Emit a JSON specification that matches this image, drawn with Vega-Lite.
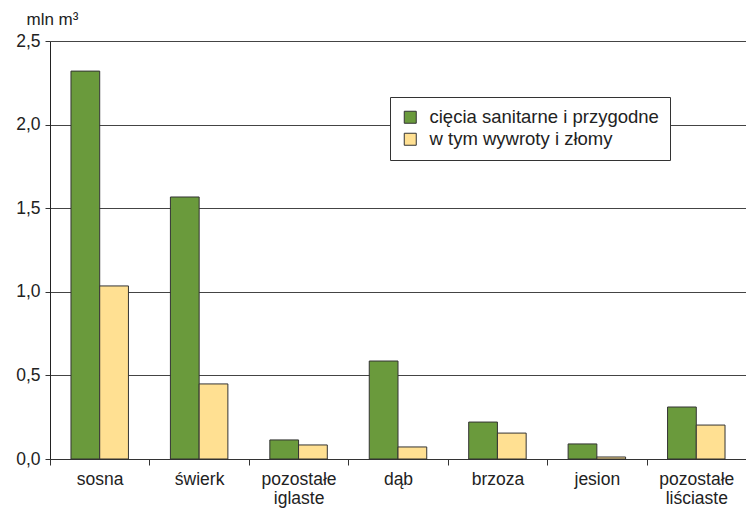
{
  "$schema": "https://vega.github.io/schema/vega-lite/v6.json",
  "width": 696,
  "height": 418,
  "padding": {"left": 50, "top": 41, "right": 0, "bottom": 49},
  "autosize": {"type": "none"},
  "background": "white",
  "config": {
    "view": {"stroke": null},
    "font": "Liberation Sans"
  },
  "data": {
    "values": [
      {"gatunek": "sosna", "seria": "cięcia sanitarne i przygodne", "v": 2.32},
      {"gatunek": "sosna", "seria": "w tym wywroty i złomy", "v": 1.035},
      {"gatunek": "świerk", "seria": "cięcia sanitarne i przygodne", "v": 1.567},
      {"gatunek": "świerk", "seria": "w tym wywroty i złomy", "v": 0.449},
      {"gatunek": "pozostałe iglaste", "seria": "cięcia sanitarne i przygodne", "v": 0.114},
      {"gatunek": "pozostałe iglaste", "seria": "w tym wywroty i złomy", "v": 0.084},
      {"gatunek": "dąb", "seria": "cięcia sanitarne i przygodne", "v": 0.586},
      {"gatunek": "dąb", "seria": "w tym wywroty i złomy", "v": 0.072},
      {"gatunek": "brzoza", "seria": "cięcia sanitarne i przygodne", "v": 0.221},
      {"gatunek": "brzoza", "seria": "w tym wywroty i złomy", "v": 0.155},
      {"gatunek": "jesion", "seria": "cięcia sanitarne i przygodne", "v": 0.09},
      {"gatunek": "jesion", "seria": "w tym wywroty i złomy", "v": 0.012},
      {"gatunek": "pozostałe liściaste", "seria": "cięcia sanitarne i przygodne", "v": 0.311},
      {"gatunek": "pozostałe liściaste", "seria": "w tym wywroty i złomy", "v": 0.203}
    ]
  },
  "mark": {"type": "bar", "stroke": "#333333", "strokeWidth": 1},
  "encoding": {
    "x": {
      "field": "gatunek",
      "type": "nominal",
      "sort": null,
      "scale": {"paddingInner": 0, "paddingOuter": 0},
      "axis": {
        "title": null,
        "labelAngle": 0,
        "labelFontSize": 17.5,
        "labelColor": "#222222",
        "labelPadding": 5,
        "labelLineHeight": 19.5,
        "labelExpr": "split(datum.label, ' ')",
        "tickBand": "extent",
        "tickSize": 6,
        "tickColor": "#333333",
        "domainColor": "#333333",
        "labelBaseline": "top"
      }
    },
    "xOffset": {
      "field": "seria",
      "type": "nominal",
      "sort": null,
      "scale": {"paddingInner": 0, "paddingOuter": 0.73}
    },
    "y": {
      "field": "v",
      "type": "quantitative",
      "scale": {"domain": [0, 2.5], "nice": false},
      "axis": {
        "values": [0, 0.5, 1, 1.5, 2, 2.5],
        "labelExpr": "replace(format(datum.value, '.1f'), '.', ',')",
        "labelFontSize": 17.5,
        "labelColor": "#222222",
        "labelPadding": 5,
        "tickSize": 5,
        "tickColor": "#333333",
        "domainColor": "#222222",
        "gridColor": "#444444",
        "gridWidth": 1,
        "title": "mln m³",
        "titleAngle": 0,
        "titleAlign": "left",
        "titleBaseline": "alphabetic",
        "titleX": -24,
        "titleY": -17,
        "titleFontSize": 17,
        "titleFontWeight": "normal",
        "titleColor": "#222222"
      }
    },
    "color": {
      "field": "seria",
      "type": "nominal",
      "sort": null,
      "scale": {"range": ["#6a9a3c", "#ffe092"]},
      "legend": {
        "title": null,
        "orient": "none",
        "legendX": 340,
        "legendY": 56,
        "symbolType": "square",
        "symbolSize": 144,
        "symbolStrokeColor": "#333333",
        "symbolStrokeWidth": 1,
        "labelFontSize": 18.5,
        "labelLimit": 400,
        "labelColor": "#222222",
        "fillColor": "white",
        "strokeColor": "#333333",
        "padding": 11,
        "rowPadding": 3,
        "labelOffset": 10
      }
    }
  }
}
